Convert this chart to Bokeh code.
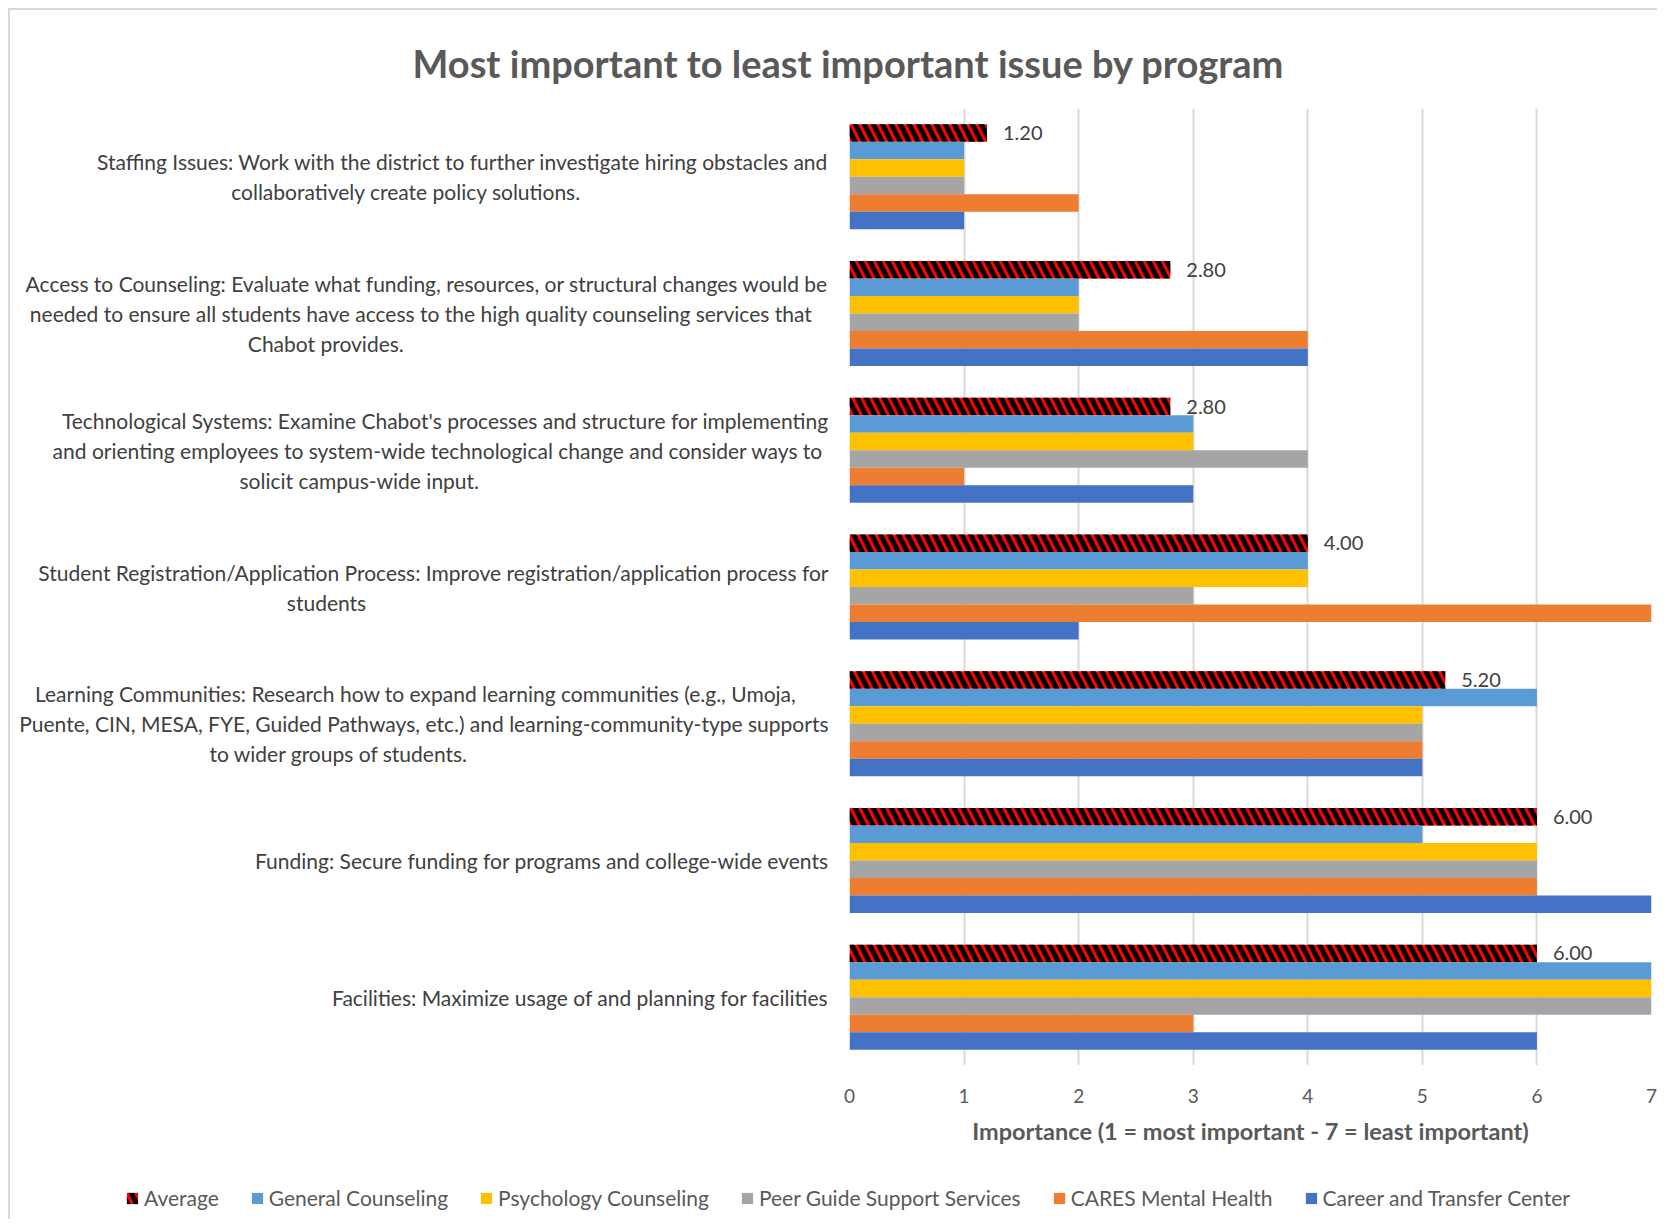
from bokeh.plotting import figure
from bokeh.layouts import column
from bokeh.models import Range1d, FixedTicker, Legend, LegendItem, Title
from bokeh.embed import file_html
from bokeh.resources import INLINE
from bokeh.core.properties import value

# ---------------- data ----------------
issues = [
    "Staffing Issues: Work with the district to further investigate hiring obstacles and\ncollaboratively create policy solutions.",
    "Access to Counseling: Evaluate what funding, resources, or structural changes would be\nneeded to ensure all students have access to the high quality counseling services that\nChabot provides.",
    "Technological Systems: Examine Chabot's processes and structure for implementing\nand orienting employees to system-wide technological change and consider ways to\nsolicit campus-wide input.",
    "Student Registration/Application Process: Improve registration/application process for\nstudents",
    "Learning Communities: Research how to expand learning communities (e.g., Umoja,\nPuente, CIN, MESA, FYE, Guided Pathways, etc.) and learning-community-type supports\nto wider groups of students.",
    "Funding: Secure funding for programs and college-wide events",
    "Facilities: Maximize usage of and planning for facilities",
]
series_names = ["Average", "General Counseling", "Psychology Counseling",
                "Peer Guide Support Services", "CARES Mental Health",
                "Career and Transfer Center"]
average = [1.2, 2.8, 2.8, 4.0, 5.2, 6.0, 6.0]
general_counseling = [1, 2, 3, 4, 6, 5, 7]
psychology_counseling = [1, 2, 3, 4, 5, 6, 7]
peer_guide = [1, 2, 4, 3, 5, 6, 7]
cares_mental_health = [2, 4, 1, 7, 5, 6, 3]
career_transfer = [1, 4, 3, 2, 5, 7, 6]
x_ticks = [0, 1, 2, 3, 4, 5, 6, 7]
chart_title = "Most important to least important issue by program"

series_values = [average, general_counseling, psychology_counseling,
                 peer_guide, cares_mental_health, career_transfer]
colors = ["#FF0000", "#5B9BD5", "#FFC000", "#A5A5A5", "#ED7D31", "#4472C4"]

FONT = "Lato"
AVG_HATCH = dict(hatch_pattern="\\", hatch_color="black", hatch_scale=18, hatch_weight=5)


# rough advance widths (em) used only to centre the lines of a wrapped label
def est_width(s):
    w = 0.0
    for ch in s:
        if ch == " ":
            w += 0.193
        elif ch in "iljI.,:;'!|":
            w += 0.24
        elif ch in "frt()-/[]":
            w += 0.34
        elif ch in "mwMW":
            w += 0.82
        elif ch.isdigit():
            w += 0.58
        elif ch.isupper():
            w += 0.64
        else:
            w += 0.52
    return w


def centre_lines(label):
    lines = label.split("\n")
    widest = max(est_width(ln) for ln in lines)
    out = []
    for ln in lines:
        pad = int(round((widest - est_width(ln)) / 2 / 0.193))
        out.append(ln + "\u00a0" * pad)
    return "\n".join(out)


n = len(issues)
centers = [n - 0.5 - i for i in range(n)]
bar_h = 0.128

p = figure(width=1647, height=1155, output_backend="svg", toolbar_location=None,
           x_range=Range1d(0, 7), y_range=Range1d(0, n),
           min_border_left=839, min_border_right=6,
           min_border_top=98, min_border_bottom=100)
p.frame_align = False
p.outline_line_color = None
p.background_fill_color = "white"
p.border_fill_color = "white"
p.title.visible = False

# blank spacer line between title and plot, then the title itself
p.add_layout(Title(text=" ", text_font=FONT, text_font_size="13px", standoff=0), "above")
p.add_layout(Title(text=chart_title, align="left", offset=-437, text_font=FONT,
                   text_font_size="38px", text_font_style="bold", text_color="#595959"), "above")

for k, (name, vals) in enumerate(zip(series_names, series_values)):
    ys = [c + (2.5 - k) * bar_h for c in centers]
    if k == 0:
        p.hbar(y=ys, right=vals, left=0, height=bar_h,
               fill_color=colors[k], line_color=None, **AVG_HATCH)
        p.text(x=vals, y=ys, text=[f"{v:.2f}" for v in vals],
               x_offset=16, text_baseline="middle", text_align="left",
               text_font=value(FONT), text_font_size="20px", text_color="#404040")
    else:
        p.hbar(y=ys, right=vals, left=0, height=bar_h,
               fill_color=colors[k], line_color=None)

# x axis
p.xaxis.ticker = FixedTicker(ticks=x_ticks)
p.xaxis.axis_line_color = None
p.xaxis.major_tick_line_color = None
p.xaxis.minor_tick_line_color = None
p.xaxis.major_label_text_font = FONT
p.xaxis.major_label_text_font_size = "19px"
p.xaxis.major_label_text_color = "#595959"
p.xaxis.major_label_standoff = 17
p.xaxis.axis_label = "Importance (1 = most important - 7 = least important)"
p.xaxis.axis_label_text_font = FONT
p.xaxis.axis_label_text_font_size = "23.5px"
p.xaxis.axis_label_text_font_style = "bold"
p.xaxis.axis_label_text_color = "#595959"
p.xaxis.axis_label_standoff = 11

# y axis
p.yaxis.ticker = FixedTicker(ticks=centers)
p.yaxis.major_label_overrides = {c: centre_lines(lab) for c, lab in zip(centers, issues)}
p.yaxis.axis_line_color = None
p.yaxis.major_tick_line_color = None
p.yaxis.minor_tick_line_color = None
p.yaxis.major_label_text_font = FONT
p.yaxis.major_label_text_font_size = "21px"
p.yaxis.major_label_text_color = "#404040"
p.yaxis.major_label_standoff = 15

# grid
p.xgrid.grid_line_color = "#d9d9d9"
p.xgrid.grid_line_width = 2
p.ygrid.grid_line_color = None

# legend strip (swatches share the series styles; zero-length bars)
pl = figure(width=1647, height=54, output_backend="svg", toolbar_location=None,
            x_range=Range1d(0, 1), y_range=Range1d(0, 1),
            x_axis_type=None, y_axis_type=None,
            min_border_left=0, min_border_right=0, min_border_top=0, min_border_bottom=0)
pl.frame_align = False
pl.outline_line_color = None
pl.grid.visible = False
pl.border_fill_color = "white"
pl.background_fill_color = "white"
swatches = []
for k, name in enumerate(series_names):
    extra = AVG_HATCH if k == 0 else {}
    swatches.append(pl.hbar(y=[0.5], right=[0], left=[0], height=0.1,
                            fill_color=colors[k], line_color=None, **extra))
legend = Legend(items=[LegendItem(label=nm, renderers=[r]) for nm, r in zip(series_names, swatches)],
                orientation="horizontal", location=(115, 9),
                glyph_width=14, glyph_height=14, label_standoff=5, spacing=31,
                padding=0, margin=0, border_line_color=None, background_fill_alpha=0,
                label_text_font=FONT, label_text_font_size="21px", label_text_color="#595959")
pl.add_layout(legend, "center")

layout = column(p, pl, spacing=0,
                styles={"margin-left": "8px", "margin-top": "8px",
                        "border-left": "2px solid #d9d9d9", "border-top": "2px solid #d9d9d9"})

open("out.html", "w").write(file_html(layout, INLINE))
